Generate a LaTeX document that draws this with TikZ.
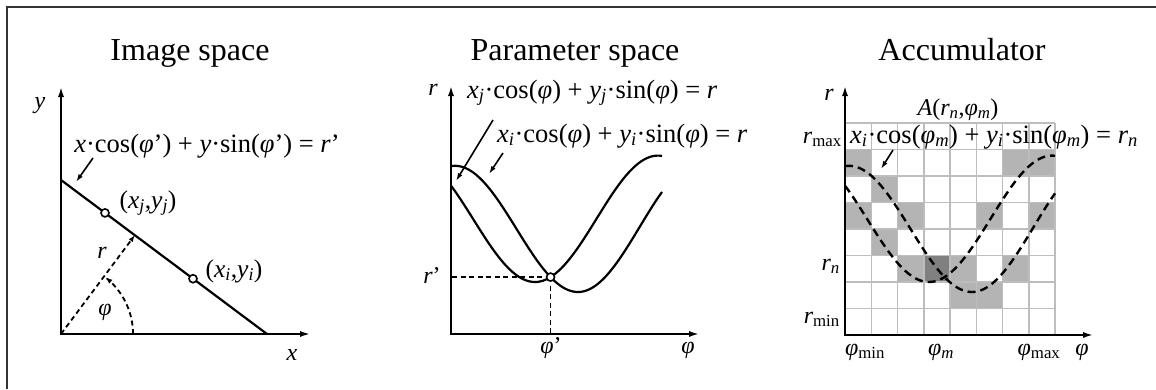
\documentclass[tikz,border=0pt]{standalone}
\usepackage{fontspec}
\setmainfont{Liberation Serif}
\usetikzlibrary{arrows.meta,intersections}
\newcommand\sbi[1]{\textsubscript{\textit{#1}}}
\newcommand\sbr[1]{\textsubscript{#1}}
\definecolor{cellgray}{HTML}{B4B4B4}
\definecolor{celldark}{HTML}{808080}
\definecolor{gridgray}{HTML}{BDBDBD}
\definecolor{framegray}{HTML}{333333}
\begin{document}
\begin{tikzpicture}[x=1pt,y=-1pt,
  ttl/.style={font=\fontsize{32}{38}\selectfont, inner sep=0pt, anchor=base},
  lbl/.style={font=\fontsize{24}{28}\selectfont, inner sep=0pt, anchor=base},
  eqn/.style={font=\fontsize{26.5}{30}\selectfont, inner sep=0pt, anchor=base},
  axisline/.style={line width=2.2pt, {Latex[length=11pt,width=6pt]}-{Latex[length=11pt,width=6pt]}},
  curve/.style={line width=2.2pt},
  dashline/.style={line width=1.8pt, dash pattern=on 5pt off 3.5pt},
  accdash/.style={line width=2.4pt, dash pattern=on 8pt off 5pt},
  ptr/.style={line width=1.6pt, -{Latex[length=8pt,width=5pt]}},
  dtip/.style={-{Latex[length=7pt,width=5pt]}},
  ptmark/.style={circle, draw, fill=white, line width=1.6pt, inner sep=0pt, minimum size=8pt},
  gridline/.style={draw=gridgray, line width=1.5pt}
]
\useasboundingbox (0,0) rectangle (1156,389);
% frame
\draw[line width=2pt, framegray] (7,389) -- (7,7) -- (1156,7);

% ================= Image space =================
\node[ttl] (t1) at (190,60) {Image space};
\coordinate (O1) at (61,334);
\coordinate (Y1) at (61,86);
\coordinate (X1) at (311,334);
\draw[axisline] (Y1) -- (O1) -- (X1);
\node[lbl] (ly1) at (40,108) {\textit{y}};
\node[lbl] (lx1) at (292,360) {\textit{x}};
\coordinate (L1) at (61,180);
\coordinate (L2) at (267,334);
\draw[curve] (L1) -- (L2);
\coordinate (F) at (135,235);
\draw[dashline, dtip] (O1) -- (F);
\draw[dashline, dtip] plot[domain=0:52, samples=30] ({61+72*cos(\x)},{334-72*sin(\x)});
\node[ptmark] (pj) at (105,212.9) {};
\node[ptmark] (pi) at (193,278.7) {};
\node[lbl, font=\fontsize{25.5}{30}\selectfont] (lpj) at (148,208) {(\textit{x}\sbi{j},\textit{y}\sbi{j})};
\node[lbl, font=\fontsize{25.5}{30}\selectfont] (lpi) at (234,277) {(\textit{x}\sbi{i},\textit{y}\sbi{i})};
\node[lbl] (lr1) at (102,258) {\textit{r}};
\node[lbl] (lphi1) at (105,315) {\textit{φ}};
\node[eqn] (eq1) at (207,152) {\textit{x}·cos(\textit{φ}’) + \textit{y}·sin(\textit{φ}’) = \textit{r}’};
\coordinate (a1s) at (93,158);
\coordinate (a1e) at (76,182);
\draw[ptr] (a1s) -- (a1e);

% ================= Parameter space =================
\node[ttl] (t2) at (575,60) {Parameter space};
\coordinate (O2) at (451,334);
\coordinate (Y2) at (451,85);
\coordinate (X2) at (700,334);
\draw[axisline] (Y2) -- (O2) -- (X2);
\draw[curve, name path=cA] plot[domain=451:578, samples=50] (\x,{228.9+63.1*cos((\x-578)/123*180)})
   -- plot[domain=578:662, samples=35] (\x,{227.2+64.8*cos((\x-578)/123*180)});
\draw[curve, name path=cB] plot[domain=451:535, samples=35] (\x,{219.6+62.4*cos((\x-535)/123*180)})
   -- plot[domain=535:662, samples=50] (\x,{218.8+63.2*cos((\x-535)/123*180)});
\path[name intersections={of=cA and cB, by=P}];
\draw[dashline] (P) -- (P -| O2);
\draw[dashline] (P) -- (P |- O2);
\node[ptmark] (Pm) at (P) {};
\node[lbl] (lr2) at (433,95) {\textit{r}};
\node[lbl] (lrp) at (432,283) {\textit{r}’};
\node[lbl] (lphp) at (551,353) {\textit{φ}’};
\node[lbl] (lphi2) at (688,353) {\textit{φ}};
\node[eqn, anchor=base west] (eqj) at (467,98) {\textit{x}\sbi{j}·cos(\textit{φ}) + \textit{y}\sbi{j}·sin(\textit{φ}) = \textit{r}};
\node[eqn, anchor=base west] (eqi) at (497,142) {\textit{x}\sbi{i}·cos(\textit{φ}) + \textit{y}\sbi{i}·sin(\textit{φ}) = \textit{r}};
\coordinate (ajs) at (493,120);
\coordinate (aje) at (456,181);
\draw[ptr] (ajs) -- (aje);
\coordinate (ais) at (503,153);
\coordinate (aie) at (489,174);
\draw[ptr] (ais) -- (aie);

% ================= Accumulator =================
\node[ttl] (t3) at (962,60) {Accumulator};
\foreach \c/\r in {0/1,6/1,7/1,1/2,0/3,2/3,5/3,7/3,1/4,2/5,4/5,6/5,4/6,5/6}
  \fill[cellgray] ({845+26.25*\c},{123+26.5*\r}) rectangle ++(26.25,26.5);
\fill[celldark] ({845+26.25*3},{123+26.5*5}) rectangle ++(26.25,26.5);
\foreach \i in {0,...,8} {
  \draw[gridline] ({845+26.25*\i},123) -- ({845+26.25*\i},335);
  \draw[gridline] (845,{123+26.5*\i}) -- (1055,{123+26.5*\i});
}
\begin{scope}[shift={(394,0)}]
\draw[accdash] plot[domain=451:578, samples=50] (\x,{228.9+63.1*cos((\x-578)/123*180)})
   -- plot[domain=578:661, samples=35] (\x,{227.2+64.8*cos((\x-578)/123*180)});
\draw[accdash] plot[domain=451:535, samples=35] (\x,{219.6+62.4*cos((\x-535)/123*180)})
   -- plot[domain=535:661, samples=50] (\x,{218.8+63.2*cos((\x-535)/123*180)});
\end{scope}
\coordinate (O3) at (845,335);
\coordinate (Y3) at (845,85);
\coordinate (X3) at (1094,335);
\draw[axisline] (Y3) -- (O3) -- (X3);
\node[lbl] (lr3) at (829,100) {\textit{r}};
\node[lbl] (lA) at (958,115) {\textit{A}(\textit{r}\sbi{n},\textit{φ}\sbi{m})};
\node[lbl, anchor=base east] (lrmax) at (842,143) {\textit{r}\sbr{max}};
\node[lbl, anchor=base east] (lrn) at (840,270) {\textit{r}\sbi{n}};
\node[lbl, anchor=base east] (lrmin) at (840,323) {\textit{r}\sbr{min}};
\node[lbl] (lpmin) at (865,355) {\textit{φ}\sbr{min}};
\node[lbl] (lpm) at (941,355) {\textit{φ}\sbi{m}};
\node[lbl] (lpmax) at (1039,355) {\textit{φ}\sbr{max}};
\node[lbl] (lphi3) at (1082,355) {\textit{φ}};
\node[eqn, anchor=base west] (eqa) at (850,143) {\textit{x}\sbi{i}·cos(\textit{φ}\sbi{m}) + \textit{y}\sbi{i}·sin(\textit{φ}\sbi{m}) = \textit{r}\sbi{n}};
\coordinate (aas) at (893,150);
\coordinate (aae) at (881,169);
\draw[ptr] (aas) -- (aae);
\end{tikzpicture}
\end{document}
